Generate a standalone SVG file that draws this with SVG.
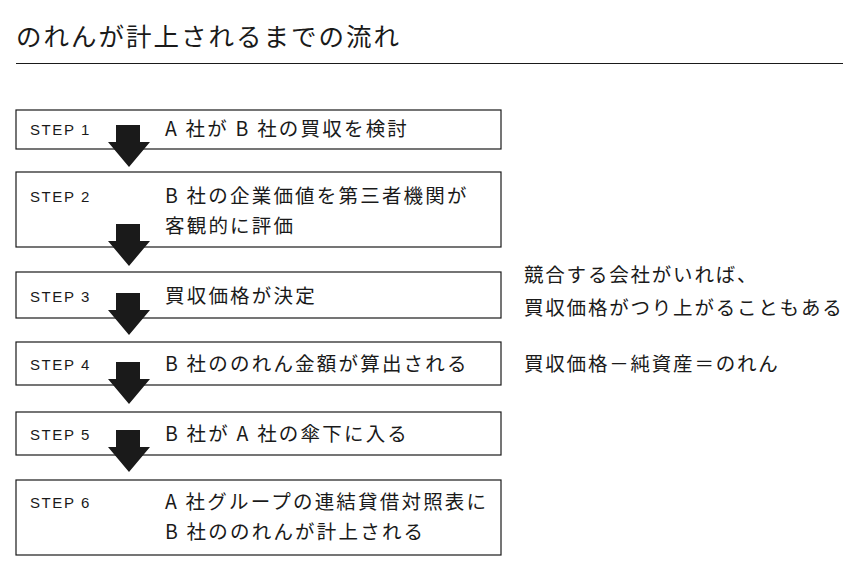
<svg xmlns="http://www.w3.org/2000/svg" width="864" height="570" viewBox="0 0 864 570">
<style>
text{font-family:"Noto Sans CJK JP","Noto Sans",sans-serif;fill:#1a1a1a}
.box{fill:#fff;stroke:#1a1a1a;stroke-width:1.2}
.s{font-family:"Liberation Sans",Arial,sans-serif;font-size:15px;letter-spacing:1.6px}
.t{font-size:19.5px;letter-spacing:2.2px}
.n{font-size:19.5px;letter-spacing:1.8px}
.arr{fill:#1a1a1a}
</style>
<rect width="864" height="570" fill="#fff"/>
<text x="16" y="46" font-size="25.5" letter-spacing="2">のれんが計上されるまでの流れ</text>
<line x1="16" y1="63.5" x2="843" y2="63.5" stroke="#1a1a1a" stroke-width="1"/>
<g id="step1"><rect class="box" x="16" y="110" width="485" height="39"/><text class="s" x="30" y="135">STEP 1</text><text class="t" x="165" y="136">A 社が B 社の買収を検討</text></g>
<g id="step2"><rect class="box" x="16" y="172" width="485" height="75"/><text class="s" x="30" y="202">STEP 2</text><text class="t" x="165" y="203">B 社の企業価値を第三者機関が</text><text class="t" x="165" y="233">客観的に評価</text></g>
<g id="step3"><rect class="box" x="16" y="272" width="485" height="46"/><text class="s" x="30" y="302">STEP 3</text><text class="t" x="165" y="303">買収価格が決定</text></g>
<g id="step4"><rect class="box" x="16" y="342" width="485" height="43"/><text class="s" x="30" y="370">STEP 4</text><text class="t" x="165" y="371">B 社ののれん金額が算出される</text></g>
<g id="step5"><rect class="box" x="16" y="412" width="485" height="43"/><text class="s" x="30" y="440">STEP 5</text><text class="t" x="165" y="441">B 社が A 社の傘下に入る</text></g>
<g id="step6"><rect class="box" x="16" y="480" width="485" height="75"/><text class="s" x="30" y="508">STEP 6</text><text class="t" x="165" y="509">A 社グループの連結貸借対照表に</text><text class="t" x="165" y="539">B 社ののれんが計上される</text></g>
<g id="notes"><text class="n" x="524" y="282">競合する会社がいれば、</text><text class="n" x="524" y="315">買収価格がつり上がることもある</text><text class="n" x="524" y="371">買収価格－純資産＝のれん</text></g>
<g id="connectors">
<path class="arr" d="M116 125H140V142H150L129 167L108 142H116Z"/>
<path class="arr" d="M116 224H140V241H150L129 266L108 241H116Z"/>
<path class="arr" d="M116 293H140V310H150L129 335L108 310H116Z"/>
<path class="arr" d="M116 362H140V379H150L129 404L108 379H116Z"/>
<path class="arr" d="M116 430H140V447H150L129 472L108 447H116Z"/>
</g>
</svg>
